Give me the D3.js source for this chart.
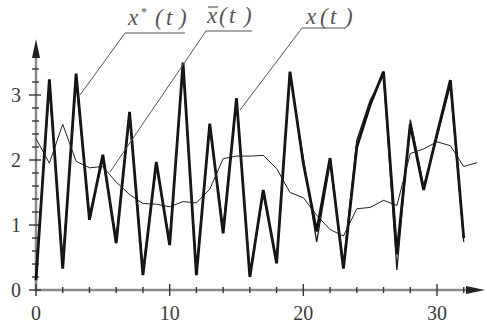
<!DOCTYPE html>
<html>
<head>
<meta charset="utf-8">
<script src="https://cdn.jsdelivr.net/npm/d3@7/dist/d3.min.js"></script>
<style>
  html, body { margin: 0; padding: 0; background: #fff; }
  svg { display: block; }
</style>
</head>
<body>
<svg id="chart" width="487" height="334"></svg>
<script>
// ---- data ----
const t = d3.range(0, 33);          // 0..32
const tBar = d3.range(0, 34);       // 0..33
const xTrue = [0.15, 3.24, 0.33, 3.33, 1.08, 2.08, 0.72, 2.74, 0.23, 1.97, 0.69, 3.5, 0.23, 2.56, 0.87, 2.95, 0.2,
               1.54, 0.41, 3.36, 1.95, 0.9, 2.03, 0.33, 2.2, 2.85, 3.36, 0.55, 2.55, 1.54, 2.4, 3.23, 0.8];
const xStar = [0.3, 3.12, 0.45, 3.2, 1.15, 2.0, 0.8, 2.68, 0.3, 1.9, 0.76, 3.42, 0.3, 2.5, 0.95, 2.9, 0.26,
               1.48, 0.46, 3.3, 2.02, 0.74, 1.95, 0.4, 2.3, 2.92, 3.3, 0.31, 2.62, 1.6, 2.35, 3.15, 0.74];
const xBar = [2.33, 1.95, 2.55, 1.98, 1.88, 1.9, 1.66, 1.47, 1.33, 1.32, 1.28, 1.36, 1.34, 1.55, 2.02, 2.06, 2.06,
              2.07, 1.87, 1.5, 1.42, 1.15, 0.93, 0.83, 1.25, 1.27, 1.38, 1.3, 2.1, 2.17, 2.28, 2.22, 1.9, 1.96];
const xTickLabels = [0, 10, 20, 30];
const yTickLabels = [0, 1, 2, 3];

// ---- scales ----
const svg = d3.select("#chart");
const x = d3.scaleLinear().domain([0, 30]).range([36, 437]);
const y = d3.scaleLinear().domain([0, 3]).range([290, 95]);

const axisColor = "#8a8a8a", tickColor = "#333", textColor = "#3a3a3a";
const SERIF = '"Liberation Serif", "Times New Roman", serif';

// ---- axes ----
const ax = svg.append("g");
ax.append("line").attr("x1", x(0)).attr("x2", 470).attr("y1", y(0)).attr("y2", y(0))
  .attr("stroke", axisColor).attr("stroke-width", 2.5);
ax.append("line").attr("x1", x(0)).attr("x2", x(0)).attr("y1", y(0)).attr("y2", 56)
  .attr("stroke", axisColor).attr("stroke-width", 2.5);
// arrows
ax.append("path").attr("d", `M${x(0)},39 L${x(0) + 4},58 L${x(0) - 4},58 Z`).attr("fill", "#222");
ax.append("path").attr("d", `M485,${y(0)} L466,${y(0) - 4} L466,${y(0) + 4} Z`).attr("fill", "#222");

// y ticks: minor every 0.2, major every 1
d3.range(0, 3.41, 0.2).forEach(v => {
  const major = Math.abs(v - Math.round(v)) < 1e-6;
  ax.append("line")
    .attr("x1", x(0) - (major ? 7 : 4)).attr("x2", x(0) + (major ? 5 : 3))
    .attr("y1", y(v)).attr("y2", y(v))
    .attr("stroke", tickColor).attr("stroke-width", 1.4);
});
// x ticks: minor every 2, major every 10
d3.range(0, 33, 2).forEach(v => {
  const major = v % 10 === 0;
  ax.append("line")
    .attr("x1", x(v)).attr("x2", x(v))
    .attr("y1", y(0) - (major ? 6 : 3)).attr("y2", y(0) + (major ? 6 : 3))
    .attr("stroke", tickColor).attr("stroke-width", 1.4);
});
// tick labels
ax.selectAll(".xl").data(xTickLabels).join("text").style("font-family", SERIF)
  .attr("x", d => x(d)).attr("y", 320).attr("text-anchor", "middle")
  .attr("font-size", 20).attr("fill", textColor)
  .text(d => d);
ax.selectAll(".yl").data(yTickLabels).join("text").style("font-family", SERIF)
  .attr("x", 21).attr("y", d => y(d)).attr("dy", "0.35em").attr("text-anchor", "end")
  .attr("font-size", 20).attr("fill", textColor)
  .text(d => d);

// ---- series ----
const line = d3.line().x(d => x(d[0])).y(d => y(d[1]));
svg.append("path").datum(tBar.map((d, i) => [d, xBar[i]])).attr("d", line)
  .attr("fill", "none").attr("stroke", "#222").attr("stroke-width", 1);
svg.append("path").datum(t.map((d, i) => [d, xTrue[i]])).attr("d", line)
  .attr("fill", "none").attr("stroke", "#111").attr("stroke-width", 2.8).attr("stroke-linejoin", "miter");
svg.append("path").datum(t.map((d, i) => [d, xStar[i]])).attr("d", line)
  .attr("fill", "none").attr("stroke", "#1a1a1a").attr("stroke-width", 1.3).attr("stroke-linejoin", "miter");

// ---- labels with leader lines ----
const lab = svg.append("g").style("font-family", SERIF).style("font-style", "italic")
  .attr("fill", "#555").attr("font-size", 23);
const leaderColor = "#555";
function leader(pts) {
  lab.append("path").attr("d", d3.line()(pts)).attr("fill", "none")
    .attr("stroke", leaderColor).attr("stroke-width", 1);
}
// x*(t)
const t1 = lab.append("text").attr("y", 25);
t1.append("tspan").attr("x", 128).text("x");
t1.append("tspan").attr("x", 141).attr("dy", -9).attr("font-size", 12).style("font-style", "normal").text("*");
t1.append("tspan").attr("x", 155).attr("dy", 9).text("(");
t1.append("tspan").attr("x", 166).text("t");
t1.append("tspan").attr("x", 179).text(")");
leader([[185, 33], [125, 33], [80, 95]]);
// x̄(t)
const t2 = lab.append("text").attr("y", 23);
t2.append("tspan").attr("x", 207).text("x");
t2.append("tspan").attr("x", 219).text("(");
t2.append("tspan").attr("x", 229).text("t");
t2.append("tspan").attr("x", 244).text(")");
lab.append("line").attr("x1", 208).attr("x2", 218).attr("y1", 7).attr("y2", 7)
  .attr("stroke", "#555").attr("stroke-width", 1.2);
leader([[252, 31], [206, 31], [110, 172]]);
// x(t)
const t3 = lab.append("text").attr("y", 24);
t3.append("tspan").attr("x", 306).text("x");
t3.append("tspan").attr("x", 320).text("(");
t3.append("tspan").attr("x", 330).text("t");
t3.append("tspan").attr("x", 345).text(")");
leader([[345, 28], [302, 28], [240, 110]]);
</script>
</body>
</html>
